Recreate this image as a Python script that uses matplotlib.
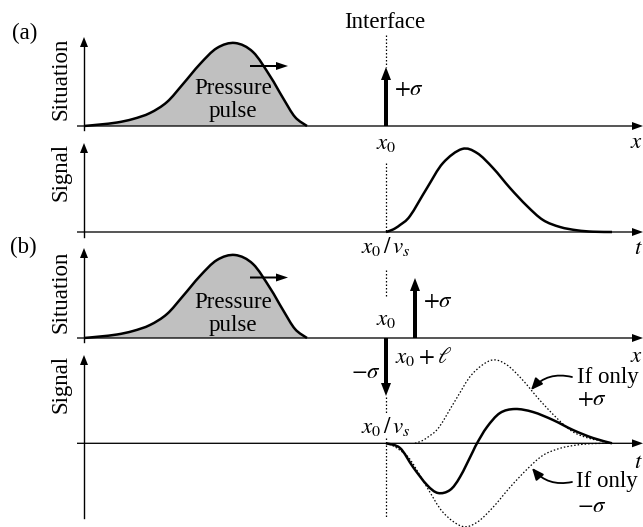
import matplotlib
matplotlib.use("Agg")
import matplotlib.pyplot as plt
from matplotlib.path import Path
from matplotlib.patches import PathPatch
import numpy as np

plt.rcParams['font.family'] = ['Liberation Serif', 'DejaVu Serif']
plt.rcParams['mathtext.fontset'] = 'stix'

# ---- data (pixel-like schematic units) ----
# pressure pulse shape: x positions and height above the baseline
pulse_x = [84, 100, 117, 133, 150, 167, 183, 200, 217, 235, 253, 270, 283, 295, 307]
pulse_h = [0, 1.5, 3.5, 7, 13, 24, 42, 62, 78, 83, 74, 50, 28, 9, 0]

# recorded signal for a single +sigma interface (offset from x0/vs, height)
sig_dt = [0, 7, 14, 24, 41, 57, 76, 91, 107, 124, 141, 157, 174, 191, 207, 226]
sig_h = [0, 2.5, 7, 16, 44, 69, 83, 79, 64, 44, 26, 12, 5, 1.7, 0.3, 0]

# combined signal for the -sigma / +sigma pair (panel b)
comb_x = [386, 400, 413, 427, 438, 450, 460, 473, 477, 487, 500, 515, 533, 553, 573, 593, 612]
comb_h = [0, -4.7, -23.7, -41.7, -49.7, -46.7, -33.7, -8, 0, 16.3, 30.3, 34.3, 31.3, 23.3, 13.3, 5.3, 0]

x_interface = 386
ell_shift = 29

# ---- layout (baselines) ----
base_sit_a, base_sig_a, base_sit_b, base_sig_b = 126, 232, 338, 443.3

fig = plt.figure(figsize=(6.43, 5.27), dpi=100)
ax = fig.add_axes([0, 0, 1, 1])
ax.set_xlim(0, 643)
ax.set_ylim(527, 0)
ax.axis('off')

FS = 16.5
K = 'black'


def smooth_path(xs, ys):
    """Smooth curve through the given points (Catmull-Rom drawn as cubic Beziers)."""
    P = np.column_stack([xs, ys]).astype(float)
    verts = [P[0]]
    codes = [Path.MOVETO]
    n = len(P)
    for i in range(n - 1):
        p0 = P[i - 1] if i > 0 else P[i]
        p1, p2 = P[i], P[i + 1]
        p3 = P[i + 2] if i + 2 < n else P[i + 1]
        c1 = p1 + (p2 - p0) / 6.0
        c2 = p2 - (p3 - p1) / 6.0
        verts += [c1, c2, p2]
        codes += [Path.CURVE4] * 3
    return verts, codes


def curve(xs, ys, fill_base=None, **kw):
    verts, codes = smooth_path(xs, ys)
    if fill_base is not None:
        fv = verts + [(xs[-1], fill_base), (xs[0], fill_base), verts[0]]
        fc = codes + [Path.LINETO, Path.LINETO, Path.CLOSEPOLY]
        ax.add_patch(PathPatch(Path(fv, fc), facecolor='#c0c0c0', lw=0, zorder=1))
    ax.add_patch(PathPatch(Path(verts, codes), facecolor='none', edgecolor=K, **kw))


def axis_arrow(x0, y0, x1, y1, hw=8, hl=11, w=1.3):
    ax.arrow(x0, y0, x1 - x0, y1 - y0, width=w, head_width=hw, head_length=hl,
             length_includes_head=True, color=K, lw=0, zorder=3)


# axes
for yb, ytop, ybot in [(base_sit_a, 37, 130), (base_sig_a, 143, 237),
                       (base_sit_b, 248, 342), (base_sig_b, 355, 518)]:
    axis_arrow(77, yb, 643, yb)
    ax.plot([84, 84], [ybot, ytop + 8], color=K, lw=1.0, zorder=3)
    axis_arrow(84, ytop + 10, 84, ytop, hw=8, hl=10)

# interface dotted line segments
for y0, y1 in [(35, 67), (163, 232), (270, 297), (397, 413), (438, 517)]:
    ax.plot([x_interface, x_interface], [y0, y1], color=K, lw=0.9, ls=(0, (1.2, 1.6)), zorder=2)

# pressure pulses
px = np.array(pulse_x, float)
ph = np.array(pulse_h, float)
for yb in (base_sit_a, base_sit_b):
    curve(px, yb - ph, fill_base=yb, lw=1.8, zorder=2)

# pulse direction arrows
for y in (66, 277.5):
    axis_arrow(250, y, 288, y, hw=8, hl=12, w=2.0)

# sigma arrows
def thick_arrow(x, y0, y1):
    ax.arrow(x, y0, 0, y1 - y0, width=4, head_width=10, head_length=13,
             length_includes_head=True, color=K, lw=0, zorder=4)

thick_arrow(x_interface, base_sit_a, 67)
thick_arrow(x_interface + ell_shift, base_sit_b, 278)
thick_arrow(x_interface, base_sit_b, 396)

# signal (a)
sx = x_interface + np.array(sig_dt, float)
sh = np.array(sig_h, float)
curve(sx, base_sig_a - sh, lw=1.8, zorder=3)

# signal (b): dotted single-interface responses and solid combination
dot = dict(lw=0.9, ls=(0, (1.2, 1.6)), zorder=2)
curve(sx, base_sig_b + sh, **dot)
m = (sx + ell_shift) <= 612
curve((sx + ell_shift)[m], (base_sig_b - sh)[m], **dot)
curve(np.array(comb_x, float), base_sig_b - np.array(comb_h), lw=1.8, zorder=3)

# texts
def T(x, y, s, ha='center', rot=0, fs=FS):
    ax.text(x, y, s, ha=ha, va='center', rotation=rot, fontsize=fs, color=K, zorder=5)

T(25, 33, '(a)')
T(23, 247, '(b)')
T(385, 22, 'Interface')
T(61, 79, 'Situation', rot=90)
T(61, 172, 'Signal', rot=90)
T(61, 292, 'Situation', rot=90)
T(61, 384, 'Signal', rot=90)
T(233, 88, 'Pressure')
T(233, 112, 'pulse')
T(233, 302, 'Pressure')
T(233, 325, 'pulse')
T(409, 90, r'$+\sigma$')
T(386, 143, r'$x_0$')
T(636, 143, r'$x$')
T(386, 246, r'$x_0\,/\,v_s$')
T(638, 248, r'$t$')
T(386, 320, r'$x_0$')
T(438, 302, r'$+\sigma$')
T(424, 356, r'$x_0+\ell$')
T(636, 356, r'$x$')
T(366, 372, r'$-\sigma$')
T(386, 427, r'$x_0\,/\,v_s$')
T(638, 462, r'$t$')
T(577, 378, 'If only', ha='left')
T(577, 400, r'$+\sigma$', ha='left')
T(576, 482, 'If only', ha='left')
T(577, 506, r'$-\sigma$', ha='left')

ax.annotate('', xy=(531, 390), xytext=(572, 377),
            arrowprops=dict(arrowstyle='-|>,head_length=0.7,head_width=0.3', lw=1.3, color=K,
                            connectionstyle='arc3,rad=0.3', shrinkA=0, shrinkB=0))
ax.annotate('', xy=(532, 468), xytext=(572, 482),
            arrowprops=dict(arrowstyle='-|>,head_length=0.7,head_width=0.3', lw=1.3, color=K,
                            connectionstyle='arc3,rad=-0.3', shrinkA=0, shrinkB=0))

fig.savefig('out.png', dpi=100)
